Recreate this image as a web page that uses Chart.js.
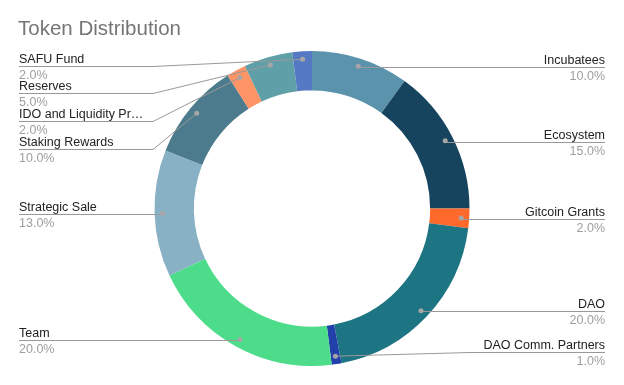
<!DOCTYPE html>
<html>
<head>
<meta charset="utf-8">
<script src="https://cdn.jsdelivr.net/npm/chart.js@4"></script>
<style>
  html, body { margin: 0; padding: 0; background: #ffffff; }
  #wrap { width: 624px; height: 385px; position: relative; }
</style>
</head>
<body>
<div id="wrap"><canvas id="tokenChart" width="624" height="385"></canvas></div>
<script>
// Data, clockwise from 12 o'clock
const labels = ['Incubatees', 'Ecosystem', 'Gitcoin Grants', 'DAO', 'DAO Comm. Partners',
    'Team', 'Strategic Sale', 'Staking Rewards', 'IDO and Liquidity Pr\u2026', 'Reserves', 'SAFU Fund'];
const shares = [10, 15, 2, 20, 1, 20, 13, 10, 2, 5, 2];
const sliceColors = ['#5b93ad', '#16435e', '#ff6a2c', '#1d7482', '#2140a9',
    '#4cdc8a', '#88b1c5', '#4c7b8d', '#ff9466', '#5fa0a8', '#5679c4'];

const FONT = '"Liberation Sans", Arial, sans-serif';

// Where each label sits: side, y of the underline, x where the leader bends
const labelLayout = [
    { side: 'right', y: 67 },
    { side: 'right', y: 142 },
    { side: 'right', y: 219 },
    { side: 'right', y: 311 },
    { side: 'right', y: 352, bend: 470 },
    { side: 'left', y: 340 },
    { side: 'left', y: 214 },
    { side: 'left', y: 149, bend: 153 },
    { side: 'left', y: 121, bend: 153 },
    { side: 'left', y: 93, bend: 153 },
    { side: 'left', y: 66, bend: 153 }
];

// Draws title, leader lines and outside labels
const outsideLabels = {
    id: 'outsideLabels',
    afterDraw(chart) {
        const ctx = chart.ctx;
        const meta = chart.getDatasetMeta(0);
        const total = shares.reduce((a, b) => a + b, 0);

        ctx.save();
        ctx.font = '20.5px ' + FONT;
        ctx.fillStyle = '#757575';
        ctx.textAlign = 'left';
        ctx.textBaseline = 'alphabetic';
        ctx.fillText('Token Distribution', 18, 35);

        meta.data.forEach((arc, i) => {
            const p = arc.getProps(['x', 'y', 'startAngle', 'endAngle', 'outerRadius'], true);
            const mid = (p.startAngle + p.endAngle) / 2;
            const r = p.outerRadius - 8;
            const dx = p.x + Math.cos(mid) * r;
            const dy = p.y + Math.sin(mid) * r;
            const lay = labelLayout[i];
            const left = lay.side === 'left';
            const edge = left ? 19 : 605;

            // leader line
            ctx.strokeStyle = '#999999';
            ctx.lineWidth = 1;
            ctx.beginPath();
            ctx.moveTo(dx, dy);
            if (lay.bend !== undefined) {
                ctx.lineTo(lay.bend, lay.y + 0.5);
            } else {
                ctx.lineTo(dx, lay.y + 0.5);
            }
            ctx.lineTo(edge, lay.y + 0.5);
            ctx.stroke();

            // dot
            ctx.fillStyle = '#a6a6a6';
            ctx.beginPath();
            ctx.arc(dx, dy, 2.5, 0, Math.PI * 2);
            ctx.fill();

            // text
            ctx.textAlign = left ? 'left' : 'right';
            ctx.font = '12.5px ' + FONT;
            ctx.fillStyle = '#222222';
            ctx.textBaseline = 'alphabetic';
            ctx.fillText(labels[i], edge, lay.y - 3);
            ctx.fillStyle = '#9e9e9e';
            ctx.fillText((shares[i] / total * 100).toFixed(1) + '%', edge, lay.y + 13);
        });
        ctx.restore();
    }
};

const ctx = document.getElementById('tokenChart').getContext('2d');
new Chart(ctx, {
    type: 'doughnut',
    data: {
        labels: labels,
        datasets: [{
            data: shares,
            backgroundColor: sliceColors,
            borderWidth: 0
        }]
    },
    options: {
        responsive: false,
        animation: false,
        cutout: '75%',
        layout: {
            padding: { top: 51, bottom: 19, left: 0, right: 0 }
        },
        plugins: {
            legend: { display: false },
            tooltip: { enabled: false },
            title: { display: false }
        }
    },
    plugins: [outsideLabels]
});
</script>
</body>
</html>
